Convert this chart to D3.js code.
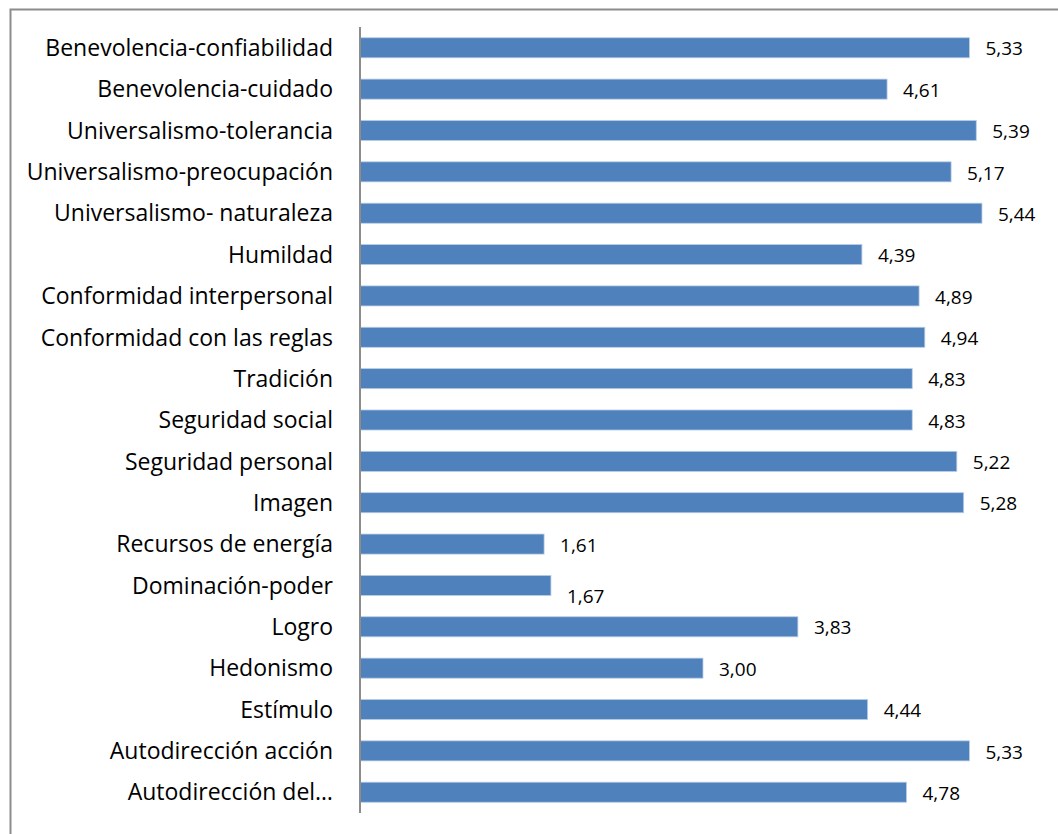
<!DOCTYPE html>
<html><head><meta charset="utf-8">
<script src="https://cdn.jsdelivr.net/npm/d3@7"></script>
<style>html,body{margin:0;padding:0;background:#fff;}svg{display:block;}</style>
</head><body>
<script>
const categories = [
  "Benevolencia-confiabilidad","Benevolencia-cuidado","Universalismo-tolerancia",
  "Universalismo-preocupación","Universalismo- naturaleza ","Humildad",
  "Conformidad interpersonal","Conformidad con las reglas","Tradición",
  "Seguridad social","Seguridad personal","Imagen","Recursos de energía",
  "Dominación-poder","Logro","Hedonismo","Estímulo","Autodirección acción",
  "Autodirección del…"
];
const values = [5.33,4.61,5.39,5.17,5.44,4.39,4.89,4.94,4.83,4.83,5.22,5.28,1.61,1.67,3.83,3.00,4.44,5.33,4.78];

(function () {
const W = 1058, H = 834;
const svg = d3.select("body").append("svg").attr("width", W).attr("height", H);

svg.append("rect").attr("x", 10.5).attr("y", 9.5).attr("width", W + 20).attr("height", H + 20)
  .attr("fill", "#fff").attr("stroke", "#8c8c8c").attr("stroke-width", 2);

const x0 = 360, yTop = 27, yBottom = 813;
const x = d3.scaleLinear().domain([0, 6]).range([x0, x0 + 686]);
const y = d3.scaleBand().domain(categories).range([yTop, yBottom]).paddingInner(0.515).paddingOuter(0.26);

svg.append("g").selectAll("rect").data(values).join("rect")
  .attr("x", x(0)).attr("y", (d, i) => y(categories[i]))
  .attr("width", d => x(d) - x(0)).attr("height", y.bandwidth())
  .attr("fill", "#4F81BD").attr("stroke", "#B9CDE5").attr("stroke-width", 0.8);

const fmt = d => d.toFixed(2).replace(".", ",");
svg.append("g").selectAll("text").data(values).join("text")
  .attr("x", d => x(d) + 16)
  .attr("y", (d, i) => y(categories[i]) + y.bandwidth() / 2 + (categories[i] === "Dominación-poder" ? 11 : 1))
  .attr("dy", "0.35em")
  .attr("font-family", "'Open Sans', sans-serif").attr("font-size", 19).attr("fill", "#000")
  .text(fmt);

const yAxis = d3.axisLeft(y).tickSize(0).tickPadding(27);
const g = svg.append("g").attr("transform", `translate(${x0},0)`).call(yAxis);
g.select(".domain").remove();
g.selectAll("text").attr("font-family", "'Open Sans', sans-serif").attr("font-size", 23).attr("fill", "#000").attr("dy", "0.36em");

svg.append("line").attr("x1", x0).attr("x2", x0).attr("y1", yTop).attr("y2", yBottom)
  .attr("stroke", "#8c8c8c").attr("stroke-width", 2);
})();
</script>
</body></html>
